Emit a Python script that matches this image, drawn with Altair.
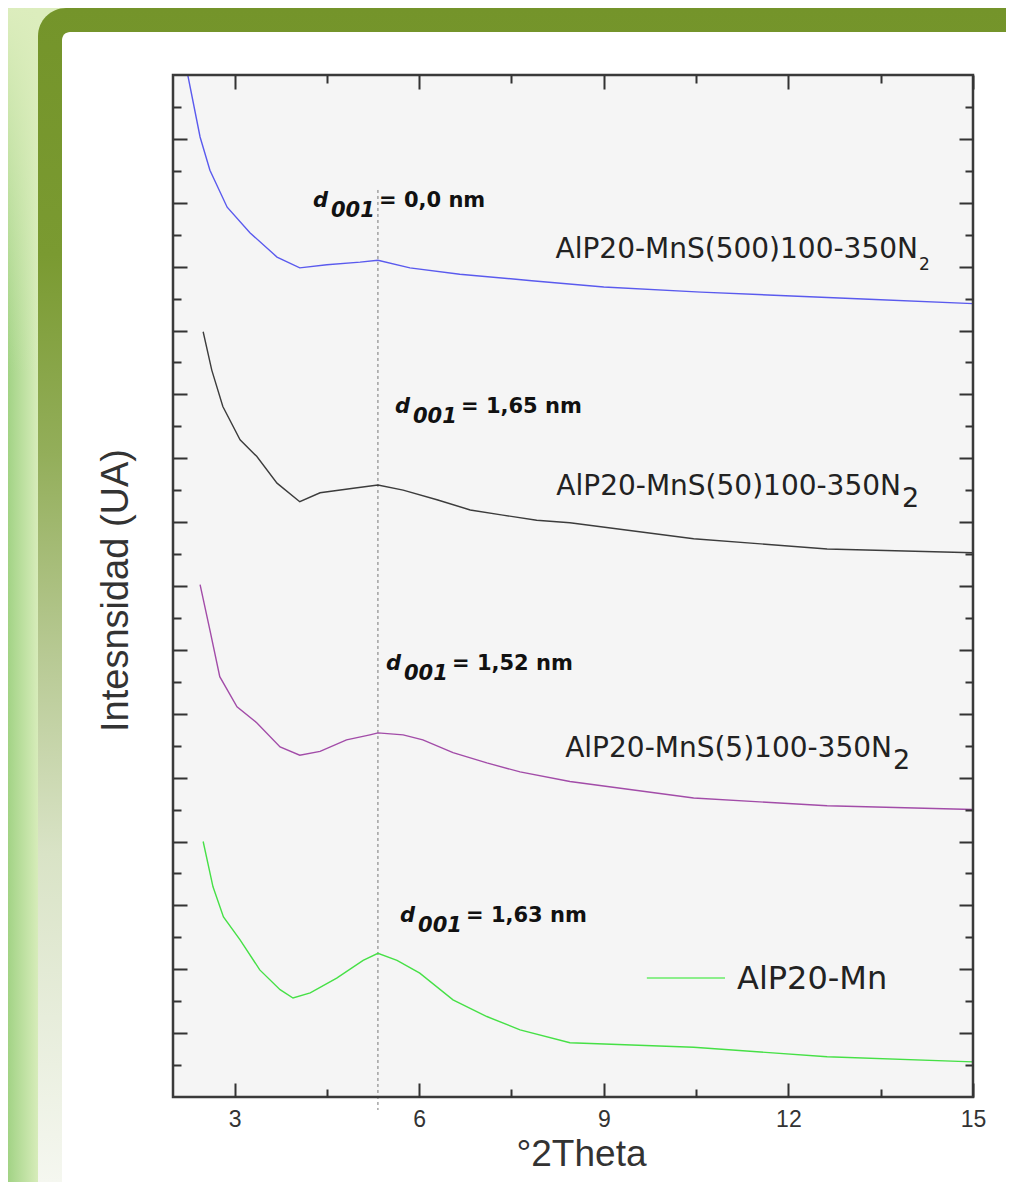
import altair as alt
import pandas as pd

# ---------------- data ----------------
SERIES = ["AlP20-MnS(500)100-350N2", "AlP20-MnS(50)100-350N2", "AlP20-MnS(5)100-350N2", "AlP20-Mn"]
COLORS = ["#5a5aee", "#3c3c3c", "#a24ca8", "#46e046"]

BLUE_X = [2.24, 2.44, 2.60, 2.88, 3.25, 3.69, 4.06, 4.50, 5.04, 5.33, 5.85, 6.66, 7.83, 9.0, 10.58, 13.31, 15.0]
BLUE_Y = [16.0, 15.03, 14.51, 13.93, 13.53, 13.15, 12.98, 13.03, 13.07, 13.10, 12.98, 12.88, 12.78, 12.68, 12.60, 12.49, 12.42]

BLACK_X = [2.49, 2.63, 2.81, 3.09, 3.36, 3.69, 4.06, 4.39, 4.93, 5.33, 5.74, 6.29, 6.83, 7.36, 7.91, 8.45, 10.46, 12.63, 15.0]
BLACK_Y = [11.98, 11.38, 10.81, 10.29, 10.03, 9.61, 9.32, 9.46, 9.53, 9.58, 9.50, 9.35, 9.19, 9.11, 9.03, 8.99, 8.74, 8.58, 8.52]

PURPLE_X = [2.44, 2.60, 2.76, 3.04, 3.36, 3.74, 4.06, 4.39, 4.82, 5.20, 5.33, 5.74, 6.06, 6.55, 7.10, 7.64, 8.45, 10.46, 12.63, 15.0]
PURPLE_Y = [8.02, 7.31, 6.58, 6.11, 5.86, 5.48, 5.35, 5.41, 5.59, 5.67, 5.70, 5.67, 5.59, 5.39, 5.23, 5.09, 4.94, 4.68, 4.56, 4.50]

GREEN_X = [2.49, 2.65, 2.82, 3.09, 3.41, 3.74, 3.95, 4.23, 4.66, 5.09, 5.33, 5.64, 6.01, 6.55, 7.10, 7.64, 8.45, 10.46, 12.63, 15.0]
GREEN_Y = [4.00, 3.29, 2.82, 2.46, 1.99, 1.68, 1.55, 1.63, 1.86, 2.14, 2.25, 2.14, 1.94, 1.52, 1.26, 1.05, 0.85, 0.78, 0.63, 0.55]

X_TICKS = [3, 4.5, 6, 7.5, 9, 10.5, 12, 13.5, 15]
Y_TICKS = [v / 2 for v in range(1, 32)]

# d001 annotations
D_TEXT = ["= 0,0 nm", "= 1,65 nm", "= 1,52 nm", "= 1,63 nm"]
D_X = [4.275, 5.607, 5.461, 5.689]
D_Y = [13.93, 10.71, 6.685, 2.74]
D_LINE_X = 5.33
D_LINE_TOP = 14.2

# curve labels (main part right-aligned at end of "N", then subscript 2)
LAB_TEXT = ["AlP20-MnS(500)100-350N", "AlP20-MnS(50)100-350N", "AlP20-MnS(5)100-350N"]
LAB_X = [14.106, 13.830, 13.684]
LAB_Y = [13.135, 9.425, 5.323]

LEG_X0, LEG_X1, LEG_Y = 9.70, 10.97, 1.863
LEG_TEXT_X, LEG_TEXT_Y = 11.165, 1.69

# ---------------- layout ----------------
W, H = 800, 1022
PAD = {"left": 165, "top": 67, "right": 33, "bottom": 85}
X_SCALE = alt.Scale(domain=[2, 15], nice=False, zero=False)
Y_SCALE = alt.Scale(domain=[0, 16], nice=False, zero=False)
AX = "#333333"
one = pd.DataFrame({"k": [0]})


def dash(test):
    return {"condition": {"test": test, "value": [0, 6, 8, 100]}, "value": [1, 0]}


common = dict(offset=-14, tickSize=14, tickWidth=2, tickColor=AX, domain=False, grid=False, zindex=1)

bottom_axis = alt.Axis(orient="bottom", values=X_TICKS, tickDash=dash("datum.value % 3 !== 0"),
                       labelExpr="datum.value % 3 === 0 ? datum.label : ''", labelFlush=False,
                       labelOverlap=False, labelFont="Liberation Sans", labelFontSize=23,
                       labelColor=AX, labelPadding=11, title="°2Theta", titleFont="Liberation Sans",
                       titleFontSize=37, titleFontWeight="normal", titleColor=AX, titleX=408,
                       titleY=82, titleBaseline="alphabetic", titleAlign="center", **common)
top_axis = alt.Axis(orient="top", values=X_TICKS, tickDash=dash("datum.value % 3 !== 0"),
                    labels=False, title="", **common)
left_axis = alt.Axis(orient="left", values=Y_TICKS, tickDash=dash("datum.value % 1 !== 0"),
                     labels=False, title="Intesnsidad (UA)", titleFont="Liberation Sans",
                     titleFontSize=38, titleFontWeight="normal", titleColor=AX, titleAngle=270,
                     titleX=-60, titleY=515, titleBaseline="alphabetic", titleAlign="center", **common)
right_axis = alt.Axis(orient="right", values=Y_TICKS, tickDash=dash("datum.value % 1 !== 0"),
                      labels=False, title="", **common)

# ---------------- decoration (page frame) ----------------
strip = alt.Chart(one).mark_rect(
    fill=alt.LinearGradient(gradient="linear", x1=0, x2=1, y1=0, y2=0,
                            stops=[alt.GradientStop(offset=0, color="#a2d385"),
                                   alt.GradientStop(offset=1, color="#d7ecba")])
).encode(x=alt.value(-165), x2=alt.value(-135), y=alt.value(-67), y2=alt.value(1107))

strip_top = alt.Chart(one).mark_rect(
    fill=alt.LinearGradient(gradient="linear", x1=0, x2=0, y1=0, y2=1,
                            stops=[alt.GradientStop(offset=0, color="#dcedbd"),
                                   alt.GradientStop(offset=1, color="rgba(220,237,189,0)")])
).encode(x=alt.value(-165), x2=alt.value(-135), y=alt.value(-67), y2=alt.value(300))

frame = alt.Chart(one).mark_rect(
    cornerRadiusTopLeft=28,
    fill=alt.LinearGradient(gradient="linear", x1=0, x2=0, y1=0, y2=1,
                            stops=[alt.GradientStop(offset=0, color="#74942a"),
                                   alt.GradientStop(offset=0.21, color="#7a9a31"),
                                   alt.GradientStop(offset=0.38, color="#93ae5a"),
                                   alt.GradientStop(offset=0.55, color="#b7c993"),
                                   alt.GradientStop(offset=0.72, color="#d9e3c6"),
                                   alt.GradientStop(offset=1, color="#f5f7f0")])
).encode(x=alt.value(-135), x2=alt.value(833), y=alt.value(-67), y2=alt.value(1107))

panel = alt.Chart(one).mark_rect(fill="white", cornerRadiusTopLeft=8).encode(
    x=alt.value(-111), x2=alt.value(833), y=alt.value(-43), y2=alt.value(1107))

plot_bg = alt.Chart(one).mark_rect(fill="#f5f5f5").encode(
    x=alt.value(0), x2=alt.value(W), y=alt.value(0), y2=alt.value(H))

border = alt.Chart(one).mark_rect(fill="transparent", stroke="#3a3a3a", strokeWidth=2.5).encode(
    x=alt.value(0), x2=alt.value(W), y=alt.value(0), y2=alt.value(H))

# ---------------- data marks ----------------
rows = []
for name, xs, ys in zip(SERIES, [BLUE_X, BLACK_X, PURPLE_X, GREEN_X], [BLUE_Y, BLACK_Y, PURPLE_Y, GREEN_Y]):
    for i, (xv, yv) in enumerate(zip(xs, ys)):
        rows.append({"series": name, "x": xv, "y": yv, "i": i})
curves_df = pd.DataFrame(rows)

curves = alt.Chart(curves_df).mark_line(strokeWidth=1.4, clip=True).encode(
    x=alt.X("x:Q", scale=X_SCALE, axis=bottom_axis),
    y=alt.Y("y:Q", scale=Y_SCALE, axis=left_axis),
    color=alt.Color("series:N", scale=alt.Scale(domain=SERIES, range=COLORS), legend=None),
    detail="series:N",
    order="i:Q",
)

dline = alt.Chart(pd.DataFrame({"x": [D_LINE_X], "y": [D_LINE_TOP]})).mark_rule(
    color="#777777", strokeWidth=1, strokeDash=[3, 3]
).encode(
    x=alt.X("x:Q", scale=X_SCALE, axis=top_axis),
    y=alt.Y("y:Q", scale=Y_SCALE, axis=right_axis),
    y2=alt.value(1035),
)

d_df = pd.DataFrame({"x": D_X, "y": D_Y, "t": D_TEXT})
d_enc = dict(x=alt.X("x:Q", scale=X_SCALE, axis=None), y=alt.Y("y:Q", scale=Y_SCALE, axis=None))
d_letter = alt.Chart(d_df).mark_text(text="d", align="left", baseline="alphabetic", font="DejaVu Sans",
                                     fontSize=21, fontWeight="bold", fontStyle="italic",
                                     color="#111").encode(**d_enc)
d_sub = alt.Chart(d_df).mark_text(text="001", align="left", baseline="alphabetic", font="DejaVu Sans",
                                  fontSize=21, fontWeight="bold", fontStyle="italic", dx=18, dy=10,
                                  color="#111").encode(**d_enc)
d_val = alt.Chart(d_df).mark_text(align="left", baseline="alphabetic", font="DejaVu Sans",
                                  fontSize=21, fontWeight="bold", dx=66,
                                  color="#111").encode(text="t:N", **d_enc)

lab_df = pd.DataFrame({"x": LAB_X, "y": LAB_Y, "t": LAB_TEXT, "sub": ["2", "2", "2"],
                       "fs": [17, 27, 27]})
lab_enc = dict(x=alt.X("x:Q", scale=X_SCALE, axis=None), y=alt.Y("y:Q", scale=Y_SCALE, axis=None))
labels = alt.Chart(lab_df).mark_text(align="right", baseline="alphabetic", font="DejaVu Sans",
                                     fontSize=28, color="#222").encode(text="t:N", **lab_enc)
subs = alt.Chart(lab_df).mark_text(align="left", baseline="alphabetic", font="DejaVu Sans",
                                   dx=1, dy=12, color="#222").encode(
    text="sub:N", size=alt.Size("fs:Q", scale=None, legend=None), **lab_enc)

leg_line = alt.Chart(pd.DataFrame({"x": [LEG_X0], "x2": [LEG_X1], "y": [LEG_Y]})).mark_rule(
    color="#8cee8c", strokeWidth=2
).encode(x=alt.X("x:Q", scale=X_SCALE, axis=None), x2="x2:Q",
         y=alt.Y("y:Q", scale=Y_SCALE, axis=None))
leg_text = alt.Chart(pd.DataFrame({"x": [LEG_TEXT_X], "y": [LEG_TEXT_Y], "t": [SERIES[3]]})).mark_text(
    align="left", baseline="alphabetic", font="DejaVu Sans", fontSize=32, color="#222"
).encode(text="t:N", x=alt.X("x:Q", scale=X_SCALE, axis=None), y=alt.Y("y:Q", scale=Y_SCALE, axis=None))

chart = alt.layer(
    strip, strip_top, frame, panel, plot_bg, dline, curves, d_letter, d_sub, d_val, labels, subs,
    leg_line, leg_text, border
).resolve_scale(x="shared", y="shared").resolve_axis(x="independent", y="independent").properties(
    width=W, height=H, padding=PAD, autosize=alt.AutoSizeParams(type="none"),
    background="#dcedbd",
).configure_view(stroke="transparent")

chart.save("out.html", embed_options={"renderer": "svg", "actions": False})
